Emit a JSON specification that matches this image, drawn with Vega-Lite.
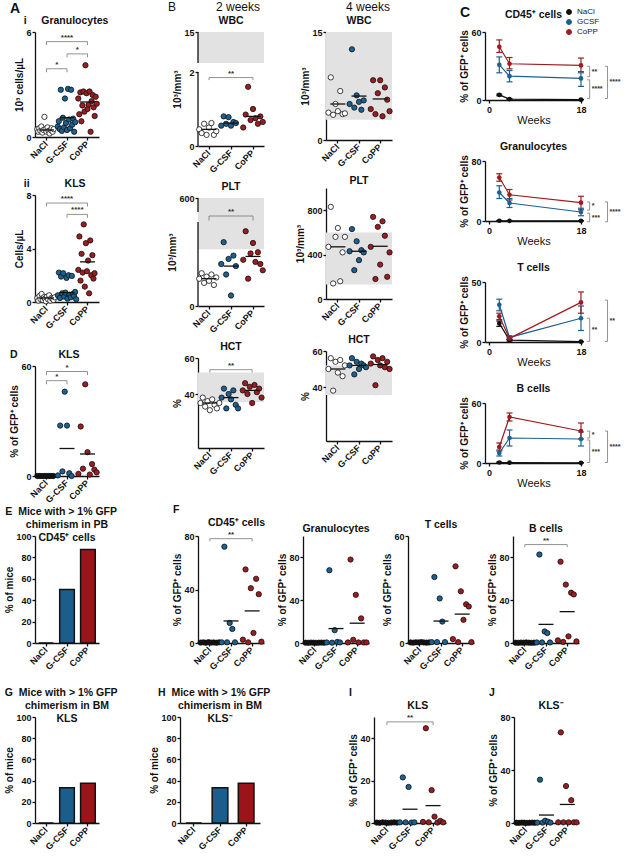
{
"$schema":"https://vega.github.io/schema/vega-lite/v6.json",
"background":"white",
"padding":{"left":4,"top":0,"right":0,"bottom":0},
"spacing":15,
"resolve":{"scale":{"xOffset":"independent","color":"independent"}},
"config":{
 "font":"Liberation Sans",
 "view":{"stroke":null},
 "axis":{"grid":false,"domainColor":"#111","domainWidth":1.3,"tickColor":"#111","tickWidth":1.3,"tickSize":3,"labelFont":"Liberation Sans","labelFontWeight":"bold","labelFontSize":9,"labelColor":"#111","labelPadding":1,"labelFlush":false,"labelOverlap":false,"titleFont":"Liberation Sans","titleFontWeight":"bold","titleFontSize":10,"titleColor":"#111","titlePadding":1},
 "axisX":{"labelAngle":-45,"labelAlign":"right","labelBaseline":"middle","labelPadding":2},
 "title":{"font":"Liberation Sans","fontSize":10.5,"fontWeight":"bold","color":"#111","offset":2,"lineHeight":13},
 "legend":{"labelFont":"Liberation Sans"}
},
"datasets":{
"Ai":[
{"g":"NaCl","v":0.45,"i":1},{"g":"NaCl","v":0.3,"i":2},{"g":"NaCl","v":0.5,"i":3},{"g":"NaCl","v":0.35,"i":4},{"g":"NaCl","v":0.6,"i":5},{"g":"NaCl","v":0.25,"i":6},{"g":"NaCl","v":0.4,"i":7},{"g":"NaCl","v":1.15,"i":8},{"g":"NaCl","v":0.45,"i":9},{"g":"NaCl","v":0.3,"i":10},{"g":"NaCl","v":0.55,"i":11},{"g":"NaCl","v":0.35,"i":12},{"g":"NaCl","v":0.2,"i":13},{"g":"NaCl","v":0.4,"i":14},{"g":"NaCl","v":0.5,"i":15},{"g":"NaCl","v":0.3,"i":16},{"g":"NaCl","v":0.45,"i":17},
{"g":"G-CSF","v":0.6,"i":1},{"g":"G-CSF","v":0.9,"i":2},{"g":"G-CSF","v":0.45,"i":3},{"g":"G-CSF","v":2.7,"i":4},{"g":"G-CSF","v":0.35,"i":5},{"g":"G-CSF","v":1.1,"i":6},{"g":"G-CSF","v":0.55,"i":7},{"g":"G-CSF","v":2.2,"i":8},{"g":"G-CSF","v":0.8,"i":9},{"g":"G-CSF","v":0.4,"i":10},{"g":"G-CSF","v":2.75,"i":11},{"g":"G-CSF","v":1.0,"i":12},{"g":"G-CSF","v":0.5,"i":13},{"g":"G-CSF","v":2.7,"i":14},{"g":"G-CSF","v":0.7,"i":15},{"g":"G-CSF","v":1.05,"i":16},{"g":"G-CSF","v":0.3,"i":17},{"g":"G-CSF","v":0.85,"i":18},
{"g":"CoPP","v":2.2,"i":1},{"g":"CoPP","v":1.3,"i":2},{"g":"CoPP","v":2.55,"i":3},{"g":"CoPP","v":0.9,"i":4},{"g":"CoPP","v":1.8,"i":5},{"g":"CoPP","v":2.6,"i":6},{"g":"CoPP","v":1.45,"i":7},{"g":"CoPP","v":4.1,"i":8},{"g":"CoPP","v":2.5,"i":9},{"g":"CoPP","v":1.6,"i":10},{"g":"CoPP","v":1.85,"i":11},{"g":"CoPP","v":2.6,"i":12},{"g":"CoPP","v":0.3,"i":13},{"g":"CoPP","v":2.05,"i":14},{"g":"CoPP","v":2.4,"i":15},{"g":"CoPP","v":1.7,"i":16},{"g":"CoPP","v":1.2,"i":17},{"g":"CoPP","v":2.3,"i":18},{"g":"CoPP","v":1.9,"i":19}
],
"Aii":[
{"g":"NaCl","v":0.3,"i":1},{"g":"NaCl","v":0.1,"i":2},{"g":"NaCl","v":0.45,"i":3},{"g":"NaCl","v":0.2,"i":4},{"g":"NaCl","v":0.6,"i":5},{"g":"NaCl","v":0.15,"i":6},{"g":"NaCl","v":0.35,"i":7},{"g":"NaCl","v":0.25,"i":8},{"g":"NaCl","v":0.05,"i":9},{"g":"NaCl","v":0.4,"i":10},{"g":"NaCl","v":0.2,"i":11},{"g":"NaCl","v":0.5,"i":12},{"g":"NaCl","v":0.1,"i":13},{"g":"NaCl","v":0.3,"i":14},{"g":"NaCl","v":0.25,"i":15},{"g":"NaCl","v":0.15,"i":16},{"g":"NaCl","v":0.35,"i":17},
{"g":"G-CSF","v":0.5,"i":1},{"g":"G-CSF","v":2.2,"i":2},{"g":"G-CSF","v":0.3,"i":3},{"g":"G-CSF","v":1.9,"i":4},{"g":"G-CSF","v":0.65,"i":5},{"g":"G-CSF","v":2.15,"i":6},{"g":"G-CSF","v":0.4,"i":7},{"g":"G-CSF","v":0.7,"i":8},{"g":"G-CSF","v":1.8,"i":9},{"g":"G-CSF","v":0.25,"i":10},{"g":"G-CSF","v":2.0,"i":11},{"g":"G-CSF","v":0.55,"i":12},{"g":"G-CSF","v":0.35,"i":13},{"g":"G-CSF","v":1.95,"i":14},{"g":"G-CSF","v":0.6,"i":15},{"g":"G-CSF","v":0.45,"i":16},{"g":"G-CSF","v":0.75,"i":17},{"g":"G-CSF","v":0.2,"i":18},
{"g":"CoPP","v":2.4,"i":1},{"g":"CoPP","v":4.9,"i":2},{"g":"CoPP","v":1.6,"i":3},{"g":"CoPP","v":3.6,"i":4},{"g":"CoPP","v":2.2,"i":5},{"g":"CoPP","v":5.8,"i":6},{"g":"CoPP","v":1.15,"i":7},{"g":"CoPP","v":4.4,"i":8},{"g":"CoPP","v":2.3,"i":9},{"g":"CoPP","v":3.1,"i":10},{"g":"CoPP","v":0.65,"i":11},{"g":"CoPP","v":4.6,"i":12},{"g":"CoPP","v":2.0,"i":13},{"g":"CoPP","v":3.5,"i":14},{"g":"CoPP","v":1.75,"i":15},{"g":"CoPP","v":2.15,"i":16}
],
"D":[
{"g":"NaCl","v":0,"i":1},{"g":"NaCl","v":0,"i":2},{"g":"NaCl","v":0,"i":3},{"g":"NaCl","v":0,"i":4},{"g":"NaCl","v":0,"i":5},{"g":"NaCl","v":0,"i":6},{"g":"NaCl","v":0,"i":7},{"g":"NaCl","v":0,"i":8},
{"g":"G-CSF","v":0.3,"i":1},{"g":"G-CSF","v":27.5,"i":2},{"g":"G-CSF","v":2.5,"i":3},{"g":"G-CSF","v":46,"i":4},{"g":"G-CSF","v":27.5,"i":5},{"g":"G-CSF","v":1.5,"i":6},{"g":"G-CSF","v":0,"i":7},
{"g":"CoPP","v":1.2,"i":1},{"g":"CoPP","v":27,"i":2},{"g":"CoPP","v":4,"i":3},{"g":"CoPP","v":50,"i":4},{"g":"CoPP","v":13,"i":5},{"g":"CoPP","v":0.8,"i":6},{"g":"CoPP","v":6.5,"i":7},{"g":"CoPP","v":3.5,"i":8},{"g":"CoPP","v":2,"i":9}
],
"B2w":[
{"g":"NaCl","v":0.45,"i":1},{"g":"NaCl","v":0.35,"i":2},{"g":"NaCl","v":0.6,"i":3},{"g":"NaCl","v":0.3,"i":4},{"g":"NaCl","v":0.5,"i":5},{"g":"NaCl","v":0.62,"i":6},{"g":"NaCl","v":0.3,"i":7},{"g":"NaCl","v":0.4,"i":8},
{"g":"G-CSF","v":0.55,"i":1},{"g":"G-CSF","v":0.8,"i":2},{"g":"G-CSF","v":0.6,"i":3},{"g":"G-CSF","v":0.78,"i":4},{"g":"G-CSF","v":0.55,"i":5},{"g":"G-CSF","v":0.65,"i":6},{"g":"G-CSF","v":0.62,"i":7},
{"g":"CoPP","v":0.5,"i":1},{"g":"CoPP","v":0.85,"i":2},{"g":"CoPP","v":1.6,"i":3},{"g":"CoPP","v":0.7,"i":4},{"g":"CoPP","v":1.0,"i":5},{"g":"CoPP","v":0.75,"i":6},{"g":"CoPP","v":0.6,"i":7},{"g":"CoPP","v":0.8,"i":8},{"g":"CoPP","v":0.65,"i":9}
],
"B2p":[
{"g":"NaCl","v":65,"i":1},{"g":"NaCl","v":78,"i":2},{"g":"NaCl","v":55,"i":3},{"g":"NaCl","v":70,"i":4},{"g":"NaCl","v":60,"i":5},{"g":"NaCl","v":75,"i":6},{"g":"NaCl","v":50,"i":7},{"g":"NaCl","v":68,"i":8},
{"g":"G-CSF","v":100,"i":1},{"g":"G-CSF","v":152,"i":2},{"g":"G-CSF","v":75,"i":3},{"g":"G-CSF","v":112,"i":4},{"g":"G-CSF","v":25,"i":5},{"g":"G-CSF","v":120,"i":6},{"g":"G-CSF","v":95,"i":7},
{"g":"CoPP","v":110,"i":1},{"g":"CoPP","v":178,"i":2},{"g":"CoPP","v":65,"i":3},{"g":"CoPP","v":125,"i":4},{"g":"CoPP","v":150,"i":5},{"g":"CoPP","v":105,"i":6},{"g":"CoPP","v":128,"i":7},{"g":"CoPP","v":100,"i":8},{"g":"CoPP","v":85,"i":9}
],
"B2h":[
{"g":"NaCl","v":35,"i":1},{"g":"NaCl","v":38,"i":2},{"g":"NaCl","v":33,"i":3},{"g":"NaCl","v":36,"i":4},{"g":"NaCl","v":31,"i":5},{"g":"NaCl","v":37,"i":6},{"g":"NaCl","v":34,"i":7},{"g":"NaCl","v":32,"i":8},{"g":"NaCl","v":35,"i":9},
{"g":"G-CSF","v":38,"i":1},{"g":"G-CSF","v":43,"i":2},{"g":"G-CSF","v":32,"i":3},{"g":"G-CSF","v":40,"i":4},{"g":"G-CSF","v":37,"i":5},{"g":"G-CSF","v":42,"i":6},{"g":"G-CSF","v":34,"i":7},{"g":"G-CSF","v":32,"i":8},
{"g":"CoPP","v":42,"i":1},{"g":"CoPP","v":46,"i":2},{"g":"CoPP","v":40,"i":3},{"g":"CoPP","v":44,"i":4},{"g":"CoPP","v":35,"i":5},{"g":"CoPP","v":45,"i":6},{"g":"CoPP","v":41,"i":7},{"g":"CoPP","v":43,"i":8},{"g":"CoPP","v":38,"i":9}
],
"B4w":[
{"g":"NaCl","v":3.8,"i":1},{"g":"NaCl","v":8.7,"i":2},{"g":"NaCl","v":3.5,"i":3},{"g":"NaCl","v":5.0,"i":4},{"g":"NaCl","v":4.0,"i":5},{"g":"NaCl","v":6.8,"i":6},{"g":"NaCl","v":3.6,"i":7},{"g":"NaCl","v":3.7,"i":8},
{"g":"G-CSF","v":5.0,"i":1},{"g":"G-CSF","v":12.6,"i":2},{"g":"G-CSF","v":4.5,"i":3},{"g":"G-CSF","v":6.2,"i":4},{"g":"G-CSF","v":5.3,"i":5},{"g":"G-CSF","v":4.2,"i":6},{"g":"G-CSF","v":5.5,"i":7},
{"g":"CoPP","v":4.3,"i":1},{"g":"CoPP","v":8.3,"i":2},{"g":"CoPP","v":3.6,"i":3},{"g":"CoPP","v":6.5,"i":4},{"g":"CoPP","v":8.3,"i":5},{"g":"CoPP","v":3.3,"i":6},{"g":"CoPP","v":7.3,"i":7},{"g":"CoPP","v":5.6,"i":8},{"g":"CoPP","v":4.0,"i":9}
],
"B4p":[
{"g":"NaCl","v":470,"i":1},{"g":"NaCl","v":830,"i":2},{"g":"NaCl","v":140,"i":3},{"g":"NaCl","v":560,"i":4},{"g":"NaCl","v":640,"i":5},{"g":"NaCl","v":160,"i":6},{"g":"NaCl","v":420,"i":7},{"g":"NaCl","v":560,"i":8},
{"g":"G-CSF","v":430,"i":1},{"g":"G-CSF","v":630,"i":2},{"g":"G-CSF","v":260,"i":3},{"g":"G-CSF","v":520,"i":4},{"g":"G-CSF","v":350,"i":5},{"g":"G-CSF","v":440,"i":6},{"g":"G-CSF","v":420,"i":7},
{"g":"CoPP","v":470,"i":1},{"g":"CoPP","v":740,"i":2},{"g":"CoPP","v":180,"i":3},{"g":"CoPP","v":650,"i":4},{"g":"CoPP","v":310,"i":5},{"g":"CoPP","v":700,"i":6},{"g":"CoPP","v":570,"i":7},{"g":"CoPP","v":200,"i":8},{"g":"CoPP","v":420,"i":9}
],
"B4h":[
{"g":"NaCl","v":50,"i":1},{"g":"NaCl","v":56,"i":2},{"g":"NaCl","v":38,"i":3},{"g":"NaCl","v":54,"i":4},{"g":"NaCl","v":48,"i":5},{"g":"NaCl","v":55,"i":6},{"g":"NaCl","v":46,"i":7},{"g":"NaCl","v":52,"i":8},
{"g":"G-CSF","v":52,"i":1},{"g":"G-CSF","v":56,"i":2},{"g":"G-CSF","v":47,"i":3},{"g":"G-CSF","v":54,"i":4},{"g":"G-CSF","v":50,"i":5},{"g":"G-CSF","v":53,"i":6},{"g":"G-CSF","v":52,"i":7},{"g":"G-CSF","v":51,"i":8},
{"g":"CoPP","v":53,"i":1},{"g":"CoPP","v":57,"i":2},{"g":"CoPP","v":41,"i":3},{"g":"CoPP","v":55,"i":4},{"g":"CoPP","v":52,"i":5},{"g":"CoPP","v":56,"i":6},{"g":"CoPP","v":51,"i":7},{"g":"CoPP","v":54,"i":8},{"g":"CoPP","v":50,"i":9}
],
"F1":[
{"g":"NaCl","v":0.3,"i":1},{"g":"NaCl","v":0.5,"i":2},{"g":"NaCl","v":0.2,"i":3},{"g":"NaCl","v":0.6,"i":4},{"g":"NaCl","v":0.3,"i":5},{"g":"NaCl","v":0.4,"i":6},{"g":"NaCl","v":0.2,"i":7},{"g":"NaCl","v":0.5,"i":8},
{"g":"G-CSF","v":0.5,"i":1},{"g":"G-CSF","v":72,"i":2},{"g":"G-CSF","v":0.5,"i":3},{"g":"G-CSF","v":15,"i":4},{"g":"G-CSF","v":10.5,"i":5},{"g":"G-CSF","v":0.5,"i":6},
{"g":"CoPP","v":2.5,"i":1},{"g":"CoPP","v":55,"i":2},{"g":"CoPP","v":0.5,"i":3},{"g":"CoPP","v":41,"i":4},{"g":"CoPP","v":7.5,"i":5},{"g":"CoPP","v":48,"i":6},{"g":"CoPP","v":36.5,"i":7},{"g":"CoPP","v":1,"i":8}
],
"F2":[
{"g":"NaCl","v":0.3,"i":1},{"g":"NaCl","v":0.2,"i":2},{"g":"NaCl","v":0.4,"i":3},{"g":"NaCl","v":0.3,"i":4},{"g":"NaCl","v":0.2,"i":5},{"g":"NaCl","v":0.3,"i":6},{"g":"NaCl","v":0.4,"i":7},{"g":"NaCl","v":0.3,"i":8},
{"g":"G-CSF","v":0.5,"i":1},{"g":"G-CSF","v":68,"i":2},{"g":"G-CSF","v":0.3,"i":3},{"g":"G-CSF","v":12,"i":4},{"g":"G-CSF","v":1,"i":5},{"g":"G-CSF","v":0.5,"i":6},
{"g":"CoPP","v":0.5,"i":1},{"g":"CoPP","v":78,"i":2},{"g":"CoPP","v":3,"i":3},{"g":"CoPP","v":45,"i":4},{"g":"CoPP","v":0.5,"i":5},{"g":"CoPP","v":23,"i":6},{"g":"CoPP","v":0.5,"i":7},{"g":"CoPP","v":0.5,"i":8}
],
"F3":[
{"g":"NaCl","v":0.3,"i":1},{"g":"NaCl","v":0.2,"i":2},{"g":"NaCl","v":0.4,"i":3},{"g":"NaCl","v":0.3,"i":4},{"g":"NaCl","v":0.5,"i":5},{"g":"NaCl","v":0.3,"i":6},{"g":"NaCl","v":0.2,"i":7},{"g":"NaCl","v":0.3,"i":8},
{"g":"G-CSF","v":0.5,"i":1},{"g":"G-CSF","v":37,"i":2},{"g":"G-CSF","v":0.5,"i":3},{"g":"G-CSF","v":25,"i":4},{"g":"G-CSF","v":12,"i":5},{"g":"G-CSF","v":0.5,"i":6},
{"g":"CoPP","v":2.2,"i":1},{"g":"CoPP","v":43,"i":2},{"g":"CoPP","v":0.5,"i":3},{"g":"CoPP","v":29,"i":4},{"g":"CoPP","v":13,"i":5},{"g":"CoPP","v":21.7,"i":6},{"g":"CoPP","v":20.5,"i":7},{"g":"CoPP","v":0.5,"i":8}
],
"F4":[
{"g":"NaCl","v":0.3,"i":1},{"g":"NaCl","v":0.2,"i":2},{"g":"NaCl","v":0.4,"i":3},{"g":"NaCl","v":0.3,"i":4},{"g":"NaCl","v":0.5,"i":5},{"g":"NaCl","v":0.3,"i":6},{"g":"NaCl","v":0.2,"i":7},{"g":"NaCl","v":0.3,"i":8},
{"g":"G-CSF","v":0.5,"i":1},{"g":"G-CSF","v":82.7,"i":2},{"g":"G-CSF","v":0.5,"i":3},{"g":"G-CSF","v":10.8,"i":4},{"g":"G-CSF","v":9.3,"i":5},{"g":"G-CSF","v":0.5,"i":6},
{"g":"CoPP","v":2.5,"i":1},{"g":"CoPP","v":76,"i":2},{"g":"CoPP","v":1,"i":3},{"g":"CoPP","v":54.6,"i":4},{"g":"CoPP","v":6.2,"i":5},{"g":"CoPP","v":47,"i":6},{"g":"CoPP","v":45.4,"i":7},{"g":"CoPP","v":1.5,"i":8}
],
"I":[
{"g":"NaCl","v":0.2,"i":1},{"g":"NaCl","v":0.1,"i":2},{"g":"NaCl","v":0.3,"i":3},{"g":"NaCl","v":0.2,"i":4},{"g":"NaCl","v":0.1,"i":5},{"g":"NaCl","v":0.2,"i":6},{"g":"NaCl","v":0.3,"i":7},{"g":"NaCl","v":0.2,"i":8},
{"g":"G-CSF","v":0.3,"i":1},{"g":"G-CSF","v":21.5,"i":2},{"g":"G-CSF","v":0.3,"i":3},{"g":"G-CSF","v":17,"i":4},{"g":"G-CSF","v":0.2,"i":5},{"g":"G-CSF","v":0.3,"i":6},
{"g":"CoPP","v":0.5,"i":1},{"g":"CoPP","v":44.7,"i":2},{"g":"CoPP","v":0.3,"i":3},{"g":"CoPP","v":15.5,"i":4},{"g":"CoPP","v":3,"i":5},{"g":"CoPP","v":0.2,"i":6},{"g":"CoPP","v":1,"i":7},{"g":"CoPP","v":0.3,"i":8}
],
"J":[
{"g":"NaCl","v":0.2,"i":1},{"g":"NaCl","v":0.1,"i":2},{"g":"NaCl","v":0.3,"i":3},{"g":"NaCl","v":0.2,"i":4},{"g":"NaCl","v":0.1,"i":5},{"g":"NaCl","v":0.2,"i":6},{"g":"NaCl","v":0.3,"i":7},{"g":"NaCl","v":0.2,"i":8},
{"g":"G-CSF","v":0.3,"i":1},{"g":"G-CSF","v":32.7,"i":2},{"g":"G-CSF","v":0.3,"i":3},{"g":"G-CSF","v":1.7,"i":4},{"g":"G-CSF","v":1,"i":5},{"g":"G-CSF","v":0.3,"i":6},
{"g":"CoPP","v":0.5,"i":1},{"g":"CoPP","v":68.4,"i":2},{"g":"CoPP","v":0.5,"i":3},{"g":"CoPP","v":27.9,"i":4},{"g":"CoPP","v":0.5,"i":5},{"g":"CoPP","v":17.2,"i":6},{"g":"CoPP","v":0.5,"i":7},{"g":"CoPP","v":0.5,"i":8}
],
"means":[
{"p":"Ai","g":"NaCl","v":0.4},{"p":"Ai","g":"G-CSF","v":1.1},{"p":"Ai","g":"CoPP","v":2.0},
{"p":"Aii","g":"NaCl","v":0.3},{"p":"Aii","g":"G-CSF","v":0.7},{"p":"Aii","g":"CoPP","v":3.0},
{"p":"D","g":"NaCl","v":0},{"p":"D","g":"G-CSF","v":15},{"p":"D","g":"CoPP","v":12},
{"p":"B2w","g":"NaCl","v":0.45},{"p":"B2w","g":"G-CSF","v":0.62},{"p":"B2w","g":"CoPP","v":0.8},
{"p":"B2p","g":"NaCl","v":65},{"p":"B2p","g":"G-CSF","v":95},{"p":"B2p","g":"CoPP","v":118},
{"p":"B2h","g":"NaCl","v":35},{"p":"B2h","g":"G-CSF","v":38},{"p":"B2h","g":"CoPP","v":42},
{"p":"B4w","g":"NaCl","v":5.0},{"p":"B4w","g":"G-CSF","v":6.1},{"p":"B4w","g":"CoPP","v":5.7},
{"p":"B4p","g":"NaCl","v":470},{"p":"B4p","g":"G-CSF","v":430},{"p":"B4p","g":"CoPP","v":475},
{"p":"B4h","g":"NaCl","v":50},{"p":"B4h","g":"G-CSF","v":52},{"p":"B4h","g":"CoPP","v":52.5},
{"p":"F1","g":"NaCl","v":0.4},{"p":"F1","g":"G-CSF","v":16.5},{"p":"F1","g":"CoPP","v":24},
{"p":"F2","g":"NaCl","v":0.3},{"p":"F2","g":"G-CSF","v":13.5},{"p":"F2","g":"CoPP","v":18.5},
{"p":"F3","g":"NaCl","v":0.3},{"p":"F3","g":"G-CSF","v":12.3},{"p":"F3","g":"CoPP","v":16.2},
{"p":"F4","g":"NaCl","v":0.3},{"p":"F4","g":"G-CSF","v":17.4},{"p":"F4","g":"CoPP","v":29.3},
{"p":"I","g":"NaCl","v":0.2},{"p":"I","g":"G-CSF","v":6.5},{"p":"I","g":"CoPP","v":8.2},
{"p":"J","g":"NaCl","v":0.2},{"p":"J","g":"G-CSF","v":6},{"p":"J","g":"CoPP","v":14}
],
"brk":[
{"p":"Ai","g1":"NaCl","g2":"G-CSF","v":3.9,"v2":3.7,"t":"*"},
{"p":"Ai","g1":"NaCl","g2":"CoPP","v":5.45,"v2":5.25,"t":"****"},
{"p":"Ai","g1":"G-CSF","g2":"CoPP","v":4.75,"v2":4.55,"t":"*"},
{"p":"Aii","g1":"NaCl","g2":"CoPP","v":7.4,"v2":7.15,"t":"****"},
{"p":"Aii","g1":"G-CSF","g2":"CoPP","v":6.55,"v2":6.3,"t":"****"},
{"p":"D","g1":"NaCl","g2":"CoPP","v":57,"v2":55,"t":"*"},
{"p":"D","g1":"NaCl","g2":"G-CSF","v":52,"v2":50,"t":"*"},
{"p":"B2w","g1":"NaCl","g2":"CoPP","v":1.85,"v2":1.78,"t":"**"},
{"p":"B2p","g1":"NaCl","g2":"CoPP","v":260,"v2":215,"t":"**"},
{"p":"B2h","g1":"NaCl","g2":"CoPP","v":53.5,"v2":52,"t":"**"},
{"p":"F1","g1":"NaCl","g2":"CoPP","v":78,"v2":76,"t":"**"},
{"p":"F4","g1":"NaCl","g2":"CoPP","v":92,"v2":89.5,"t":"**"},
{"p":"I","g1":"NaCl","g2":"CoPP","v":47.7,"v2":46.2,"t":"**"}
],
"bands":[
{"p":"B2w","lo":3,"hi":15},{"p":"B2p","lo":135,"hi":600},{"p":"B2h","lo":35.5,"hi":52},
{"p":"B4w","lo":2.8,"hi":15},{"p":"B4p","lo":130,"hi":600},{"p":"B4h","lo":35.5,"hi":52}
],
"axseg":[
{"p":"B2w","a":0,"b":2},{"p":"B2w","a":3,"b":15},
{"p":"B2p","a":0,"b":200},{"p":"B2p","a":300,"b":600}
],
"bars":[
{"p":"E","g":"NaCl","v":0},{"p":"E","g":"G-CSF","v":50},{"p":"E","g":"CoPP","v":87.5},
{"p":"G","g":"NaCl","v":0},{"p":"G","g":"G-CSF","v":33.3},{"p":"G","g":"CoPP","v":37.5},
{"p":"H","g":"NaCl","v":0},{"p":"H","g":"G-CSF","v":33.3},{"p":"H","g":"CoPP","v":37.5}
],
"cser":[
{"p":"cd","g":"NaCl","w":2,"m":4.5,"lo":3.8,"hi":5.2},{"p":"cd","g":"NaCl","w":4,"m":0.8,"lo":0.4,"hi":1.2},{"p":"cd","g":"NaCl","w":18,"m":0.3,"lo":0.1,"hi":0.5},
{"p":"cd","g":"GCSF","w":2,"m":31,"lo":24,"hi":38},{"p":"cd","g":"GCSF","w":4,"m":21,"lo":16,"hi":26},{"p":"cd","g":"GCSF","w":18,"m":19,"lo":12,"hi":24},
{"p":"cd","g":"CoPP","w":2,"m":47,"lo":42,"hi":53},{"p":"cd","g":"CoPP","w":4,"m":32,"lo":27.5,"hi":37.5},{"p":"cd","g":"CoPP","w":18,"m":30.5,"lo":25,"hi":37},
{"p":"gr","g":"NaCl","w":2,"m":0.3,"lo":0,"hi":0.6},{"p":"gr","g":"NaCl","w":4,"m":0.2,"lo":0,"hi":0.4},{"p":"gr","g":"NaCl","w":18,"m":0.2,"lo":0,"hi":0.4},
{"p":"gr","g":"GCSF","w":2,"m":38,"lo":30,"hi":47},{"p":"gr","g":"GCSF","w":4,"m":24,"lo":18,"hi":30},{"p":"gr","g":"GCSF","w":18,"m":12,"lo":7,"hi":17},
{"p":"gr","g":"CoPP","w":2,"m":58,"lo":53,"hi":63},{"p":"gr","g":"CoPP","w":4,"m":35,"lo":28,"hi":42},{"p":"gr","g":"CoPP","w":18,"m":24.5,"lo":15,"hi":33},
{"p":"t","g":"NaCl","w":2,"m":15.5,"lo":13,"hi":17.5},{"p":"t","g":"NaCl","w":4,"m":1.5,"lo":0.8,"hi":2.2},{"p":"t","g":"NaCl","w":18,"m":0.3,"lo":0,"hi":0.5},
{"p":"t","g":"GCSF","w":2,"m":31,"lo":26,"hi":35.7},{"p":"t","g":"GCSF","w":4,"m":3.8,"lo":2.5,"hi":5.2},{"p":"t","g":"GCSF","w":18,"m":19.8,"lo":9.6,"hi":30},
{"p":"t","g":"CoPP","w":2,"m":21.4,"lo":18.7,"hi":24},{"p":"t","g":"CoPP","w":4,"m":3,"lo":2,"hi":4},{"p":"t","g":"CoPP","w":18,"m":33,"lo":24,"hi":41.7},
{"p":"b","g":"NaCl","w":2,"m":0.5,"lo":0,"hi":1},{"p":"b","g":"NaCl","w":4,"m":0.3,"lo":0,"hi":0.6},{"p":"b","g":"NaCl","w":18,"m":0.2,"lo":0,"hi":0.4},
{"p":"b","g":"GCSF","w":2,"m":10,"lo":7,"hi":13},{"p":"b","g":"GCSF","w":4,"m":25,"lo":17,"hi":33},{"p":"b","g":"GCSF","w":18,"m":24,"lo":17,"hi":31},
{"p":"b","g":"CoPP","w":2,"m":16,"lo":12,"hi":20},{"p":"b","g":"CoPP","w":4,"m":46,"lo":42,"hi":50},{"p":"b","g":"CoPP","w":18,"m":32,"lo":24,"hi":40}
],
"cbrk":[
{"p":"cd","xa":19.2,"xb":19.7,"ya":29.7,"yb":20.5,"xt":20.1,"yt":25,"t":"**"},
{"p":"cd","xa":19.2,"xb":19.7,"ya":17.8,"yb":1.3,"xt":20.1,"yt":9.5,"t":"****"},
{"p":"cd","xa":22.7,"xb":23.2,"ya":29.7,"yb":1.3,"xt":23.6,"yt":15.5,"t":"****"},
{"p":"gr","xa":19.2,"xb":19.7,"ya":25.5,"yb":14.5,"xt":20.1,"yt":20,"t":"*"},
{"p":"gr","xa":19.2,"xb":19.7,"ya":10.5,"yb":-1,"xt":20.1,"yt":4.5,"t":"***"},
{"p":"gr","xa":22.7,"xb":23.2,"ya":25.5,"yb":-1,"xt":23.6,"yt":12,"t":"****"},
{"p":"t","xa":19.2,"xb":19.7,"ya":19.8,"yb":0.5,"xt":20.1,"yt":10,"t":"**"},
{"p":"t","xa":22.7,"xb":23.2,"ya":34.9,"yb":0.5,"xt":23.6,"yt":17.7,"t":"**"},
{"p":"b","xa":19.2,"xb":19.7,"ya":32,"yb":25,"xt":20.1,"yt":28.5,"t":"*"},
{"p":"b","xa":19.2,"xb":19.7,"ya":23,"yb":0.5,"xt":20.1,"yt":11.5,"t":"***"},
{"p":"b","xa":22.7,"xb":23.2,"ya":32,"yb":0.5,"xt":23.6,"yt":16,"t":"****"}
]
},
"vconcat":[
{"spacing":0,"resolve":{"scale":{"xOffset":"independent","color":"independent"}},"vconcat":[
{"hconcat":[
 {"hconcat":[
  {"title":{"text":"A","anchor":"start","frame":"bounds","fontSize":14,"offset":0},"spacing":18,"resolve":{"scale":{"xOffset":"independent","color":"independent"}},
   "vconcat":[
   {"spacing":12,"resolve":{"scale":{"xOffset":"independent","color":"independent"}},"vconcat":[
   {"title":{"text":"\u200b\u00a0\u00a0\u00a0i\u00a0\u00a0\u00a0\u00a0\u00a0Granulocytes","anchor":"start","frame":"bounds"},"width":64,"height":105,"layer":[
    {"data":{"name":"Ai"},"mark":{"type":"circle","size":28,"stroke":"#111","strokeWidth":0.8,"opacity":1},"encoding":{"x":{"field":"g","type":"nominal","title":null,"scale":{"domain":["NaCl","G-CSF","CoPP"],"paddingInner":0,"paddingOuter":0.06}},"xOffset":{"field":"i","type":"nominal","scale":{"paddingOuter":2}},"y":{"field":"v","type":"quantitative","title":"10³ cells/µL","scale":{"domain":[0,6],"nice":false,"zero":false},"axis":{"values":[0,2,4,6]}},"fill":{"condition":[{"test":"datum.g=='NaCl'","value":"white"},{"test":"datum.g=='CoPP'","value":"#9e1b20"}],"value":"#1b6191"}}},
    {"data":{"name":"means"},"transform":[{"filter":"datum.p=='Ai'"}],"mark":{"type":"tick","color":"#111","thickness":1.3,"size":15,"opacity":1},"encoding":{"x":{"field":"g","type":"nominal"},"y":{"field":"v","type":"quantitative"}}},
    {"data":{"name":"brk"},"transform":[{"filter":"datum.p=='Ai'"}],"layer":[
     {"mark":{"type":"rule","color":"#777","strokeWidth":0.8},"encoding":{"x":{"field":"g1","type":"nominal"},"x2":{"field":"g2"},"y":{"field":"v","type":"quantitative"}}},
     {"mark":{"type":"rule","color":"#777","strokeWidth":0.8},"encoding":{"x":{"field":"g1","type":"nominal"},"y":{"field":"v","type":"quantitative"},"y2":{"field":"v2"}}},
     {"mark":{"type":"rule","color":"#777","strokeWidth":0.8},"encoding":{"x":{"field":"g2","type":"nominal"},"y":{"field":"v","type":"quantitative"},"y2":{"field":"v2"}}},
     {"transform":[{"filter":"datum.g1=='NaCl' && datum.g2=='CoPP'"}],"mark":{"type":"text","fontSize":8,"fontWeight":"bold","color":"#333","baseline":"bottom"},"encoding":{"x":{"datum":"G-CSF","type":"nominal"},"y":{"field":"v","type":"quantitative"},"text":{"field":"t"}}},
     {"transform":[{"filter":"!(datum.g1=='NaCl' && datum.g2=='CoPP')"}],"mark":{"type":"text","fontSize":8,"fontWeight":"bold","color":"#333","baseline":"bottom"},"encoding":{"x":{"field":"g2","type":"nominal","bandPosition":0},"y":{"field":"v","type":"quantitative"},"text":{"field":"t"}}}
    ]}
   ]},
   {"title":{"text":"\u200b\u00a0\u00a0\u00a0ii\u00a0\u00a0\u00a0\u00a0\u00a0\u00a0\u00a0\u00a0\u00a0\u00a0\u00a0\u00a0KLS","anchor":"start","frame":"bounds"},"width":64,"height":107,"layer":[
    {"data":{"name":"Aii"},"mark":{"type":"circle","size":28,"stroke":"#111","strokeWidth":0.8,"opacity":1},"encoding":{"x":{"field":"g","type":"nominal","title":null,"scale":{"domain":["NaCl","G-CSF","CoPP"],"paddingInner":0,"paddingOuter":0.06}},"xOffset":{"field":"i","type":"nominal","scale":{"paddingOuter":2}},"y":{"field":"v","type":"quantitative","title":"Cells/µL","scale":{"domain":[0,8],"nice":false,"zero":false},"axis":{"values":[0,2,4,6,8]}},"fill":{"condition":[{"test":"datum.g=='NaCl'","value":"white"},{"test":"datum.g=='CoPP'","value":"#9e1b20"}],"value":"#1b6191"}}},
    {"data":{"name":"means"},"transform":[{"filter":"datum.p=='Aii'"}],"mark":{"type":"tick","color":"#111","thickness":1.3,"size":15,"opacity":1},"encoding":{"x":{"field":"g","type":"nominal"},"y":{"field":"v","type":"quantitative"}}},
    {"data":{"name":"brk"},"transform":[{"filter":"datum.p=='Aii'"}],"layer":[
     {"mark":{"type":"rule","color":"#777","strokeWidth":0.8},"encoding":{"x":{"field":"g1","type":"nominal"},"x2":{"field":"g2"},"y":{"field":"v","type":"quantitative"}}},
     {"mark":{"type":"rule","color":"#777","strokeWidth":0.8},"encoding":{"x":{"field":"g1","type":"nominal"},"y":{"field":"v","type":"quantitative"},"y2":{"field":"v2"}}},
     {"mark":{"type":"rule","color":"#777","strokeWidth":0.8},"encoding":{"x":{"field":"g2","type":"nominal"},"y":{"field":"v","type":"quantitative"},"y2":{"field":"v2"}}},
     {"transform":[{"filter":"datum.g1=='NaCl' && datum.g2=='CoPP'"}],"mark":{"type":"text","fontSize":8,"fontWeight":"bold","color":"#333","baseline":"bottom"},"encoding":{"x":{"datum":"G-CSF","type":"nominal"},"y":{"field":"v","type":"quantitative"},"text":{"field":"t"}}},
     {"transform":[{"filter":"!(datum.g1=='NaCl' && datum.g2=='CoPP')"}],"mark":{"type":"text","fontSize":8,"fontWeight":"bold","color":"#333","baseline":"bottom"},"encoding":{"x":{"field":"g2","type":"nominal","bandPosition":0},"y":{"field":"v","type":"quantitative"},"text":{"field":"t"}}}
    ]}
   ]}
   ]},
   {"title":{"text":"D\u00a0\u00a0\u00a0\u00a0\u00a0\u00a0\u00a0\u00a0\u00a0\u00a0\u00a0\u00a0\u00a0\u00a0KLS","anchor":"start","frame":"bounds"},"width":64,"height":110,"layer":[
    {"data":{"name":"D"},"mark":{"type":"circle","size":28,"stroke":"#111","strokeWidth":0.8,"opacity":1},"encoding":{"x":{"field":"g","type":"nominal","title":null,"scale":{"domain":["NaCl","G-CSF","CoPP"],"paddingInner":0,"paddingOuter":0.06}},"xOffset":{"field":"i","type":"nominal","scale":{"paddingOuter":0.5}},"y":{"field":"v","type":"quantitative","title":"% of GFP⁺ cells","scale":{"domain":[0,60],"nice":false,"zero":false},"axis":{"values":[0,20,40,60]}},"fill":{"condition":[{"test":"datum.g=='NaCl'","value":"#111"},{"test":"datum.g=='CoPP'","value":"#9e1b20"}],"value":"#1b6191"}}},
    {"data":{"name":"means"},"transform":[{"filter":"datum.p=='D'"}],"mark":{"type":"tick","color":"#111","thickness":1.3,"size":15,"opacity":1},"encoding":{"x":{"field":"g","type":"nominal"},"y":{"field":"v","type":"quantitative"}}},
    {"data":{"name":"brk"},"transform":[{"filter":"datum.p=='D'"}],"layer":[
     {"mark":{"type":"rule","color":"#777","strokeWidth":0.8},"encoding":{"x":{"field":"g1","type":"nominal"},"x2":{"field":"g2"},"y":{"field":"v","type":"quantitative"}}},
     {"mark":{"type":"rule","color":"#777","strokeWidth":0.8},"encoding":{"x":{"field":"g1","type":"nominal"},"y":{"field":"v","type":"quantitative"},"y2":{"field":"v2"}}},
     {"mark":{"type":"rule","color":"#777","strokeWidth":0.8},"encoding":{"x":{"field":"g2","type":"nominal"},"y":{"field":"v","type":"quantitative"},"y2":{"field":"v2"}}},
     {"transform":[{"filter":"datum.g1=='NaCl' && datum.g2=='CoPP'"}],"mark":{"type":"text","fontSize":8,"fontWeight":"bold","color":"#333","baseline":"bottom"},"encoding":{"x":{"datum":"G-CSF","type":"nominal"},"y":{"field":"v","type":"quantitative"},"text":{"field":"t"}}},
     {"transform":[{"filter":"!(datum.g1=='NaCl' && datum.g2=='CoPP')"}],"mark":{"type":"text","fontSize":8,"fontWeight":"bold","color":"#333","baseline":"bottom"},"encoding":{"x":{"field":"g2","type":"nominal","bandPosition":0},"y":{"field":"v","type":"quantitative"},"text":{"field":"t"}}}
    ]}
   ]}
  ]},
  {"hconcat":[
   {"title":{"text":"B\u00a0\u00a0\u00a0\u00a0\u00a0\u00a0\u00a0\u00a0\u00a0\u00a0\u00a0\u00a02 weeks","anchor":"start","frame":"bounds","fontWeight":"normal","fontSize":12},"spacing":6,"resolve":{"scale":{"xOffset":"independent","color":"independent"}},
    "vconcat":[
    {"title":"WBC","width":66,"height":114,"layer":[
     {"data":{"name":"bands"},"transform":[{"filter":"datum.p=='B2w'"}],"mark":{"type":"rect","color":"#e2e2e2"},"encoding":{"y":{"field":"lo","type":"quantitative"},"y2":{"field":"hi"}}},
     {"data":{"name":"axseg"},"transform":[{"filter":"datum.p=='B2w'"}],"mark":{"type":"rule","color":"#111","strokeWidth":1.3},"encoding":{"x":{"datum":"NaCl","type":"nominal","bandPosition":0},"y":{"field":"a","type":"quantitative"},"y2":{"field":"b"}}},
     {"data":{"name":"B2w"},"mark":{"type":"circle","size":28,"stroke":"#111","strokeWidth":0.8,"opacity":1},"encoding":{"x":{"field":"g","type":"nominal","title":null,"scale":{"domain":["NaCl","G-CSF","CoPP"],"paddingInner":0,"paddingOuter":0}},"xOffset":{"field":"i","type":"nominal","scale":{"paddingOuter":0.5}},"y":{"field":"v","type":"quantitative","title":"10³/mm³","scale":{"domain":[0,2,3,15],"range":[114,40,31,0],"nice":false,"zero":false},"axis":{"values":[0,1,2,3,15],"domain":false}},"fill":{"condition":[{"test":"datum.g=='NaCl'","value":"white"},{"test":"datum.g=='CoPP'","value":"#9e1b20"}],"value":"#1b6191"}}},
     {"data":{"name":"means"},"transform":[{"filter":"datum.p=='B2w'"}],"mark":{"type":"tick","color":"#111","thickness":1.3,"size":15,"opacity":1},"encoding":{"x":{"field":"g","type":"nominal"},"y":{"field":"v","type":"quantitative"}}},
     {"data":{"name":"brk"},"transform":[{"filter":"datum.p=='B2w'"}],"layer":[
      {"mark":{"type":"rule","color":"#777","strokeWidth":0.8},"encoding":{"x":{"field":"g1","type":"nominal"},"x2":{"field":"g2"},"y":{"field":"v","type":"quantitative"}}},
      {"mark":{"type":"rule","color":"#777","strokeWidth":0.8},"encoding":{"x":{"field":"g1","type":"nominal"},"y":{"field":"v","type":"quantitative"},"y2":{"field":"v2"}}},
      {"mark":{"type":"rule","color":"#777","strokeWidth":0.8},"encoding":{"x":{"field":"g2","type":"nominal"},"y":{"field":"v","type":"quantitative"},"y2":{"field":"v2"}}},
      {"mark":{"type":"text","fontSize":8,"fontWeight":"bold","color":"#333","baseline":"bottom"},"encoding":{"x":{"datum":"G-CSF","type":"nominal"},"y":{"field":"v","type":"quantitative"},"text":{"field":"t"}}}
     ]}
    ]},
    {"title":"PLT","width":66,"height":108,"layer":[
     {"data":{"name":"bands"},"transform":[{"filter":"datum.p=='B2p'"}],"mark":{"type":"rect","color":"#e2e2e2"},"encoding":{"y":{"field":"lo","type":"quantitative"},"y2":{"field":"hi"}}},
     {"data":{"name":"axseg"},"transform":[{"filter":"datum.p=='B2p'"}],"mark":{"type":"rule","color":"#111","strokeWidth":1.3},"encoding":{"x":{"datum":"NaCl","type":"nominal","bandPosition":0},"y":{"field":"a","type":"quantitative"},"y2":{"field":"b"}}},
     {"data":{"name":"B2p"},"mark":{"type":"circle","size":28,"stroke":"#111","strokeWidth":0.8,"opacity":1},"encoding":{"x":{"field":"g","type":"nominal","title":null,"scale":{"domain":["NaCl","G-CSF","CoPP"],"paddingInner":0,"paddingOuter":0}},"xOffset":{"field":"i","type":"nominal","scale":{"paddingOuter":0.5}},"y":{"field":"v","type":"quantitative","title":"10³/mm³","scale":{"domain":[0,200,300,600],"range":[108,24,14,0],"nice":false,"zero":false},"axis":{"values":[0,50,100,150,200,300,600],"domain":false}},"fill":{"condition":[{"test":"datum.g=='NaCl'","value":"white"},{"test":"datum.g=='CoPP'","value":"#9e1b20"}],"value":"#1b6191"}}},
     {"data":{"name":"means"},"transform":[{"filter":"datum.p=='B2p'"}],"mark":{"type":"tick","color":"#111","thickness":1.3,"size":15,"opacity":1},"encoding":{"x":{"field":"g","type":"nominal"},"y":{"field":"v","type":"quantitative"}}},
     {"data":{"name":"brk"},"transform":[{"filter":"datum.p=='B2p'"}],"layer":[
      {"mark":{"type":"rule","color":"#777","strokeWidth":0.8},"encoding":{"x":{"field":"g1","type":"nominal"},"x2":{"field":"g2"},"y":{"field":"v","type":"quantitative"}}},
      {"mark":{"type":"rule","color":"#777","strokeWidth":0.8},"encoding":{"x":{"field":"g1","type":"nominal"},"y":{"field":"v","type":"quantitative"},"y2":{"field":"v2"}}},
      {"mark":{"type":"rule","color":"#777","strokeWidth":0.8},"encoding":{"x":{"field":"g2","type":"nominal"},"y":{"field":"v","type":"quantitative"},"y2":{"field":"v2"}}},
      {"mark":{"type":"text","fontSize":8,"fontWeight":"bold","color":"#333","baseline":"bottom"},"encoding":{"x":{"datum":"G-CSF","type":"nominal"},"y":{"field":"v","type":"quantitative"},"text":{"field":"t"}}}
     ]}
    ]},
    {"title":"HCT","width":66,"height":90,"layer":[
     {"data":{"name":"bands"},"transform":[{"filter":"datum.p=='B2h'"}],"mark":{"type":"rect","color":"#e2e2e2"},"encoding":{"y":{"field":"lo","type":"quantitative"},"y2":{"field":"hi"}}},
     {"data":{"name":"B2h"},"mark":{"type":"circle","size":28,"stroke":"#111","strokeWidth":0.8,"opacity":1},"encoding":{"x":{"field":"g","type":"nominal","title":null,"scale":{"domain":["NaCl","G-CSF","CoPP"],"paddingInner":0,"paddingOuter":0.06}},"xOffset":{"field":"i","type":"nominal","scale":{"paddingOuter":0.5}},"y":{"field":"v","type":"quantitative","title":"%","scale":{"domain":[10,60],"nice":false,"zero":false},"axis":{"values":[40,60]}},"fill":{"condition":[{"test":"datum.g=='NaCl'","value":"white"},{"test":"datum.g=='CoPP'","value":"#9e1b20"}],"value":"#1b6191"}}},
     {"data":{"name":"means"},"transform":[{"filter":"datum.p=='B2h'"}],"mark":{"type":"tick","color":"#111","thickness":1.3,"size":15,"opacity":1},"encoding":{"x":{"field":"g","type":"nominal"},"y":{"field":"v","type":"quantitative"}}},
     {"data":{"name":"brk"},"transform":[{"filter":"datum.p=='B2h'"}],"layer":[
      {"mark":{"type":"rule","color":"#777","strokeWidth":0.8},"encoding":{"x":{"field":"g1","type":"nominal"},"x2":{"field":"g2"},"y":{"field":"v","type":"quantitative"}}},
      {"mark":{"type":"rule","color":"#777","strokeWidth":0.8},"encoding":{"x":{"field":"g1","type":"nominal"},"y":{"field":"v","type":"quantitative"},"y2":{"field":"v2"}}},
      {"mark":{"type":"rule","color":"#777","strokeWidth":0.8},"encoding":{"x":{"field":"g2","type":"nominal"},"y":{"field":"v","type":"quantitative"},"y2":{"field":"v2"}}},
      {"mark":{"type":"text","fontSize":8,"fontWeight":"bold","color":"#333","baseline":"bottom"},"encoding":{"x":{"datum":"G-CSF","type":"nominal"},"y":{"field":"v","type":"quantitative"},"text":{"field":"t"}}}
     ]}
    ]}
   ]},
   {"title":{"text":"\u200b\u00a0\u00a0\u00a0\u00a0\u00a0\u00a0\u00a0\u00a0\u00a0\u00a0\u00a0\u00a0\u00a0\u00a0\u00a04 weeks","anchor":"start","frame":"bounds","fontWeight":"normal","fontSize":12},"spacing":6,"resolve":{"scale":{"xOffset":"independent","color":"independent"}},
    "vconcat":[
    {"title":"WBC","width":66,"height":108,"layer":[
     {"data":{"name":"bands"},"transform":[{"filter":"datum.p=='B4w'"}],"mark":{"type":"rect","color":"#e2e2e2"},"encoding":{"y":{"field":"lo","type":"quantitative"},"y2":{"field":"hi"}}},
     {"data":{"name":"B4w"},"mark":{"type":"circle","size":28,"stroke":"#111","strokeWidth":0.8,"opacity":1},"encoding":{"x":{"field":"g","type":"nominal","title":null,"scale":{"domain":["NaCl","G-CSF","CoPP"],"paddingInner":0,"paddingOuter":0.06}},"xOffset":{"field":"i","type":"nominal","scale":{"paddingOuter":0.5}},"y":{"field":"v","type":"quantitative","title":"10³/mm³","scale":{"domain":[0,15],"nice":false,"zero":false},"axis":{"values":[0,5,10,15]}},"fill":{"condition":[{"test":"datum.g=='NaCl'","value":"white"},{"test":"datum.g=='CoPP'","value":"#9e1b20"}],"value":"#1b6191"}}},
     {"data":{"name":"means"},"transform":[{"filter":"datum.p=='B4w'"}],"mark":{"type":"tick","color":"#111","thickness":1.3,"size":15,"opacity":1},"encoding":{"x":{"field":"g","type":"nominal"},"y":{"field":"v","type":"quantitative"}}}
    ]},
    {"title":"PLT","width":66,"height":111,"layer":[
     {"data":{"name":"bands"},"transform":[{"filter":"datum.p=='B4p'"}],"mark":{"type":"rect","color":"#e2e2e2"},"encoding":{"y":{"field":"lo","type":"quantitative"},"y2":{"field":"hi"}}},
     {"data":{"name":"B4p"},"mark":{"type":"circle","size":28,"stroke":"#111","strokeWidth":0.8,"opacity":1},"encoding":{"x":{"field":"g","type":"nominal","title":null,"scale":{"domain":["NaCl","G-CSF","CoPP"],"paddingInner":0,"paddingOuter":0.06}},"xOffset":{"field":"i","type":"nominal","scale":{"paddingOuter":0.5}},"y":{"field":"v","type":"quantitative","title":"10³/mm³","scale":{"domain":[0,1000],"nice":false,"zero":false},"axis":{"values":[0,200,400,600,800,1000]}},"fill":{"condition":[{"test":"datum.g=='NaCl'","value":"white"},{"test":"datum.g=='CoPP'","value":"#9e1b20"}],"value":"#1b6191"}}},
     {"data":{"name":"means"},"transform":[{"filter":"datum.p=='B4p'"}],"mark":{"type":"tick","color":"#111","thickness":1.3,"size":15,"opacity":1},"encoding":{"x":{"field":"g","type":"nominal"},"y":{"field":"v","type":"quantitative"}}}
    ]},
    {"title":"HCT","width":66,"height":90,"layer":[
     {"data":{"name":"bands"},"transform":[{"filter":"datum.p=='B4h'"}],"mark":{"type":"rect","color":"#e2e2e2"},"encoding":{"y":{"field":"lo","type":"quantitative"},"y2":{"field":"hi"}}},
     {"data":{"name":"B4h"},"mark":{"type":"circle","size":28,"stroke":"#111","strokeWidth":0.8,"opacity":1},"encoding":{"x":{"field":"g","type":"nominal","title":null,"scale":{"domain":["NaCl","G-CSF","CoPP"],"paddingInner":0,"paddingOuter":0.06}},"xOffset":{"field":"i","type":"nominal","scale":{"paddingOuter":0.5}},"y":{"field":"v","type":"quantitative","title":"%","scale":{"domain":[10,60],"nice":false,"zero":false},"axis":{"values":[40,60]}},"fill":{"condition":[{"test":"datum.g=='NaCl'","value":"white"},{"test":"datum.g=='CoPP'","value":"#9e1b20"}],"value":"#1b6191"}}},
     {"data":{"name":"means"},"transform":[{"filter":"datum.p=='B4h'"}],"mark":{"type":"tick","color":"#111","thickness":1.3,"size":15,"opacity":1},"encoding":{"x":{"field":"g","type":"nominal"},"y":{"field":"v","type":"quantitative"}}}
    ]}
   ]}
  ],"spacing":27,"resolve":{"scale":{"xOffset":"independent","color":"independent"}}}
 ],"spacing":58,"resolve":{"scale":{"xOffset":"independent","color":"independent"}}},
 {"title":{"text":"C","anchor":"start","frame":"bounds","fontSize":14,"offset":-12},"spacing":17,"resolve":{"scale":{"xOffset":"independent","color":"independent"},"legend":{"color":"independent"}},
  "vconcat":[
  {"title":{"text":"CD45⁺ cells","offset":-12},"width":97,"height":68,"layer":[
   {"data":{"name":"cser"},"transform":[{"filter":"datum.p=='cd'"}],
    "encoding":{"x":{"field":"w","type":"quantitative","title":"Weeks","scale":{"domain":[-0.8,18.2],"nice":false,"zero":false},"axis":{"values":[0,2,4,18],"labelAngle":0,"labelAlign":"center","labelBaseline":"top","titleFontWeight":"normal","titleFontSize":11,"titlePadding":0}},
     "color":{"field":"g","type":"nominal","scale":{"domain":["NaCl","GCSF","CoPP"],"range":["#111111","#1b6191","#9e1b20"]},"legend":{"orient":"none","legendX":80,"legendY":-24,"title":null,"labelFontSize":8,"labelFontWeight":"normal","labelColor":"#222","symbolSize":22,"rowPadding":0,"symbolStrokeWidth":1.2}}},
    "layer":[
     {"mark":{"type":"rule","strokeWidth":1.2},"encoding":{"y":{"field":"lo","type":"quantitative","title":"% of GFP⁺ cells","scale":{"domain":[0,60],"nice":false},"axis":{"values":[0,20,40,60]}},"y2":{"field":"hi"}}},
     {"mark":{"type":"tick","orient":"horizontal","size":6,"thickness":1.2,"opacity":1},"encoding":{"y":{"field":"lo","type":"quantitative"}}},
     {"mark":{"type":"tick","orient":"horizontal","size":6,"thickness":1.2,"opacity":1},"encoding":{"y":{"field":"hi","type":"quantitative"}}},
     {"mark":{"type":"line","strokeWidth":1.2,"point":{"filled":true,"size":22,"opacity":1}},"encoding":{"y":{"field":"m","type":"quantitative"}}}
    ]},
   {"data":{"name":"cbrk"},"transform":[{"filter":"datum.p=='cd'"}],"layer":[
    {"mark":{"type":"rule","color":"#777","strokeWidth":0.8},"encoding":{"x":{"field":"xa","type":"quantitative"},"x2":{"field":"xb"},"y":{"field":"ya","type":"quantitative"}}},
    {"mark":{"type":"rule","color":"#777","strokeWidth":0.8},"encoding":{"x":{"field":"xb","type":"quantitative"},"y":{"field":"ya","type":"quantitative"},"y2":{"field":"yb"}}},
    {"mark":{"type":"rule","color":"#777","strokeWidth":0.8},"encoding":{"x":{"field":"xa","type":"quantitative"},"x2":{"field":"xb"},"y":{"field":"yb","type":"quantitative"}}},
    {"mark":{"type":"text","fontSize":7,"fontWeight":"bold","color":"#333","align":"left","baseline":"middle"},"encoding":{"x":{"field":"xt","type":"quantitative"},"y":{"field":"yt","type":"quantitative"},"text":{"field":"t"}}}
   ]}
  ]},
  {"title":"Granulocytes","width":97,"height":60,"layer":[
   {"data":{"name":"cser"},"transform":[{"filter":"datum.p=='gr'"}],
    "encoding":{"x":{"field":"w","type":"quantitative","title":"Weeks","scale":{"domain":[-0.8,18.2],"nice":false,"zero":false},"axis":{"values":[0,2,4,18],"labelAngle":0,"labelAlign":"center","labelBaseline":"top","titleFontWeight":"normal","titleFontSize":11,"titlePadding":0}},
     "color":{"field":"g","type":"nominal","scale":{"domain":["NaCl","GCSF","CoPP"],"range":["#111111","#1b6191","#9e1b20"]},"legend":null}},
    "layer":[
     {"mark":{"type":"rule","strokeWidth":1.2},"encoding":{"y":{"field":"lo","type":"quantitative","title":"% of GFP⁺ cells","scale":{"domain":[0,80],"nice":false},"axis":{"values":[0,40,80]}},"y2":{"field":"hi"}}},
     {"mark":{"type":"tick","orient":"horizontal","size":6,"thickness":1.2,"opacity":1},"encoding":{"y":{"field":"lo","type":"quantitative"}}},
     {"mark":{"type":"tick","orient":"horizontal","size":6,"thickness":1.2,"opacity":1},"encoding":{"y":{"field":"hi","type":"quantitative"}}},
     {"mark":{"type":"line","strokeWidth":1.2,"point":{"filled":true,"size":22,"opacity":1}},"encoding":{"y":{"field":"m","type":"quantitative"}}}
    ]},
   {"data":{"name":"cbrk"},"transform":[{"filter":"datum.p=='gr'"}],"layer":[
    {"mark":{"type":"rule","color":"#777","strokeWidth":0.8},"encoding":{"x":{"field":"xa","type":"quantitative"},"x2":{"field":"xb"},"y":{"field":"ya","type":"quantitative"}}},
    {"mark":{"type":"rule","color":"#777","strokeWidth":0.8},"encoding":{"x":{"field":"xb","type":"quantitative"},"y":{"field":"ya","type":"quantitative"},"y2":{"field":"yb"}}},
    {"mark":{"type":"rule","color":"#777","strokeWidth":0.8},"encoding":{"x":{"field":"xa","type":"quantitative"},"x2":{"field":"xb"},"y":{"field":"yb","type":"quantitative"}}},
    {"mark":{"type":"text","fontSize":7,"fontWeight":"bold","color":"#333","align":"left","baseline":"middle"},"encoding":{"x":{"field":"xt","type":"quantitative"},"y":{"field":"yt","type":"quantitative"},"text":{"field":"t"}}}
   ]}
  ]},
  {"title":"T cells","width":97,"height":60,"layer":[
   {"data":{"name":"cser"},"transform":[{"filter":"datum.p=='t'"}],
    "encoding":{"x":{"field":"w","type":"quantitative","title":"Weeks","scale":{"domain":[-0.8,18.2],"nice":false,"zero":false},"axis":{"values":[0,2,4,18],"labelAngle":0,"labelAlign":"center","labelBaseline":"top","titleFontWeight":"normal","titleFontSize":11,"titlePadding":0}},
     "color":{"field":"g","type":"nominal","scale":{"domain":["NaCl","GCSF","CoPP"],"range":["#111111","#1b6191","#9e1b20"]},"legend":null}},
    "layer":[
     {"mark":{"type":"rule","strokeWidth":1.2},"encoding":{"y":{"field":"lo","type":"quantitative","title":"% of GFP⁺ cells","scale":{"domain":[0,50],"nice":false},"axis":{"values":[0,25,50]}},"y2":{"field":"hi"}}},
     {"mark":{"type":"tick","orient":"horizontal","size":6,"thickness":1.2,"opacity":1},"encoding":{"y":{"field":"lo","type":"quantitative"}}},
     {"mark":{"type":"tick","orient":"horizontal","size":6,"thickness":1.2,"opacity":1},"encoding":{"y":{"field":"hi","type":"quantitative"}}},
     {"mark":{"type":"line","strokeWidth":1.2,"point":{"filled":true,"size":22,"opacity":1}},"encoding":{"y":{"field":"m","type":"quantitative"}}}
    ]},
   {"data":{"name":"cbrk"},"transform":[{"filter":"datum.p=='t'"}],"layer":[
    {"mark":{"type":"rule","color":"#777","strokeWidth":0.8},"encoding":{"x":{"field":"xa","type":"quantitative"},"x2":{"field":"xb"},"y":{"field":"ya","type":"quantitative"}}},
    {"mark":{"type":"rule","color":"#777","strokeWidth":0.8},"encoding":{"x":{"field":"xb","type":"quantitative"},"y":{"field":"ya","type":"quantitative"},"y2":{"field":"yb"}}},
    {"mark":{"type":"rule","color":"#777","strokeWidth":0.8},"encoding":{"x":{"field":"xa","type":"quantitative"},"x2":{"field":"xb"},"y":{"field":"yb","type":"quantitative"}}},
    {"mark":{"type":"text","fontSize":7,"fontWeight":"bold","color":"#333","align":"left","baseline":"middle"},"encoding":{"x":{"field":"xt","type":"quantitative"},"y":{"field":"yt","type":"quantitative"},"text":{"field":"t"}}}
   ]}
  ]},
  {"title":"B cells","width":97,"height":60,"layer":[
   {"data":{"name":"cser"},"transform":[{"filter":"datum.p=='b'"}],
    "encoding":{"x":{"field":"w","type":"quantitative","title":"Weeks","scale":{"domain":[-0.8,18.2],"nice":false,"zero":false},"axis":{"values":[0,2,4,18],"labelAngle":0,"labelAlign":"center","labelBaseline":"top","titleFontWeight":"normal","titleFontSize":11,"titlePadding":0}},
     "color":{"field":"g","type":"nominal","scale":{"domain":["NaCl","GCSF","CoPP"],"range":["#111111","#1b6191","#9e1b20"]},"legend":null}},
    "layer":[
     {"mark":{"type":"rule","strokeWidth":1.2},"encoding":{"y":{"field":"lo","type":"quantitative","title":"% of GFP⁺ cells","scale":{"domain":[0,60],"nice":false},"axis":{"values":[0,20,40,60]}},"y2":{"field":"hi"}}},
     {"mark":{"type":"tick","orient":"horizontal","size":6,"thickness":1.2,"opacity":1},"encoding":{"y":{"field":"lo","type":"quantitative"}}},
     {"mark":{"type":"tick","orient":"horizontal","size":6,"thickness":1.2,"opacity":1},"encoding":{"y":{"field":"hi","type":"quantitative"}}},
     {"mark":{"type":"line","strokeWidth":1.2,"point":{"filled":true,"size":22,"opacity":1}},"encoding":{"y":{"field":"m","type":"quantitative"}}}
    ]},
   {"data":{"name":"cbrk"},"transform":[{"filter":"datum.p=='b'"}],"layer":[
    {"mark":{"type":"rule","color":"#777","strokeWidth":0.8},"encoding":{"x":{"field":"xa","type":"quantitative"},"x2":{"field":"xb"},"y":{"field":"ya","type":"quantitative"}}},
    {"mark":{"type":"rule","color":"#777","strokeWidth":0.8},"encoding":{"x":{"field":"xb","type":"quantitative"},"y":{"field":"ya","type":"quantitative"},"y2":{"field":"yb"}}},
    {"mark":{"type":"rule","color":"#777","strokeWidth":0.8},"encoding":{"x":{"field":"xa","type":"quantitative"},"x2":{"field":"xb"},"y":{"field":"yb","type":"quantitative"}}},
    {"mark":{"type":"text","fontSize":7,"fontWeight":"bold","color":"#333","align":"left","baseline":"middle"},"encoding":{"x":{"field":"xt","type":"quantitative"},"y":{"field":"yt","type":"quantitative"},"text":{"field":"t"}}}
   ]}
  ]}
 ]}
],"spacing":65,"resolve":{"scale":{"xOffset":"independent","color":"independent"}}},
{"hconcat":[
 {"title":{"text":["E\u00a0\u00a0Mice with > 1% GFP\u00a0\u00a0\u00a0\u00a0\u200b","chimerism in PB","CD45⁺ cells"],"anchor":"middle","offset":-11},"width":64,"height":107,
  "data":{"name":"bars"},"transform":[{"filter":"datum.p=='E'"}],
  "mark":{"type":"bar","stroke":"#111","strokeWidth":1.5,"width":{"band":0.7}},
  "encoding":{"x":{"field":"g","type":"nominal","title":null,"scale":{"domain":["NaCl","G-CSF","CoPP"],"paddingInner":0,"paddingOuter":0.03}},"y":{"field":"v","type":"quantitative","title":"% of mice","scale":{"domain":[0,100],"nice":false},"axis":{"values":[0,20,40,60,80,100]}},"fill":{"condition":[{"test":"datum.g=='NaCl'","value":"white"},{"test":"datum.g=='CoPP'","value":"#9b1419"}],"value":"#1b5e8e"}}},
 {"hconcat":[
  {"title":{"text":["F","\u200b\u00a0\u00a0\u00a0\u00a0\u00a0\u00a0\u00a0\u00a0\u00a0\u00a0\u00a0\u00a0CD45⁺ cells"],"anchor":"start","frame":"bounds"},"width":66,"height":107,"layer":[
   {"data":{"name":"F1"},"mark":{"type":"circle","size":28,"stroke":"#111","strokeWidth":0.8,"opacity":1},"encoding":{"x":{"field":"g","type":"nominal","title":null,"scale":{"domain":["NaCl","G-CSF","CoPP"],"paddingInner":0,"paddingOuter":0.06}},"xOffset":{"field":"i","type":"nominal","scale":{"paddingOuter":0.5}},"y":{"field":"v","type":"quantitative","title":"% of GFP⁺ cells","scale":{"domain":[0,80],"nice":false,"zero":false},"axis":{"values":[0,20,40,60,80]}},"fill":{"condition":[{"test":"datum.g=='NaCl'","value":"#111"},{"test":"datum.g=='CoPP'","value":"#9e1b20"}],"value":"#1b6191"}}},
   {"data":{"name":"means"},"transform":[{"filter":"datum.p=='F1'"}],"mark":{"type":"tick","color":"#111","thickness":1.3,"size":15,"opacity":1},"encoding":{"x":{"field":"g","type":"nominal"},"y":{"field":"v","type":"quantitative"}}},
   {"data":{"name":"brk"},"transform":[{"filter":"datum.p=='F1'"}],"layer":[
    {"mark":{"type":"rule","color":"#777","strokeWidth":0.8},"encoding":{"x":{"field":"g1","type":"nominal"},"x2":{"field":"g2"},"y":{"field":"v","type":"quantitative"}}},
    {"mark":{"type":"rule","color":"#777","strokeWidth":0.8},"encoding":{"x":{"field":"g1","type":"nominal"},"y":{"field":"v","type":"quantitative"},"y2":{"field":"v2"}}},
    {"mark":{"type":"rule","color":"#777","strokeWidth":0.8},"encoding":{"x":{"field":"g2","type":"nominal"},"y":{"field":"v","type":"quantitative"},"y2":{"field":"v2"}}},
    {"mark":{"type":"text","fontSize":8,"fontWeight":"bold","color":"#333","baseline":"bottom"},"encoding":{"x":{"datum":"G-CSF","type":"nominal"},"y":{"field":"v","type":"quantitative"},"text":{"field":"t"}}}
   ]}
  ]},
  {"title":"Granulocytes","width":66,"height":107,"layer":[
   {"data":{"name":"F2"},"mark":{"type":"circle","size":28,"stroke":"#111","strokeWidth":0.8,"opacity":1},"encoding":{"x":{"field":"g","type":"nominal","title":null,"scale":{"domain":["NaCl","G-CSF","CoPP"],"paddingInner":0,"paddingOuter":0.06}},"xOffset":{"field":"i","type":"nominal","scale":{"paddingOuter":0.5}},"y":{"field":"v","type":"quantitative","title":"% of GFP⁺ cells","scale":{"domain":[0,100],"nice":false,"zero":false},"axis":{"values":[0,20,40,60,80,100]}},"fill":{"condition":[{"test":"datum.g=='NaCl'","value":"#111"},{"test":"datum.g=='CoPP'","value":"#9e1b20"}],"value":"#1b6191"}}},
   {"data":{"name":"means"},"transform":[{"filter":"datum.p=='F2'"}],"mark":{"type":"tick","color":"#111","thickness":1.3,"size":15,"opacity":1},"encoding":{"x":{"field":"g","type":"nominal"},"y":{"field":"v","type":"quantitative"}}}
  ]},
  {"title":"T cells","width":66,"height":107,"layer":[
   {"data":{"name":"F3"},"mark":{"type":"circle","size":28,"stroke":"#111","strokeWidth":0.8,"opacity":1},"encoding":{"x":{"field":"g","type":"nominal","title":null,"scale":{"domain":["NaCl","G-CSF","CoPP"],"paddingInner":0,"paddingOuter":0.06}},"xOffset":{"field":"i","type":"nominal","scale":{"paddingOuter":0.5}},"y":{"field":"v","type":"quantitative","title":"% of GFP⁺ cells","scale":{"domain":[0,60],"nice":false,"zero":false},"axis":{"values":[0,20,40,60]}},"fill":{"condition":[{"test":"datum.g=='NaCl'","value":"#111"},{"test":"datum.g=='CoPP'","value":"#9e1b20"}],"value":"#1b6191"}}},
   {"data":{"name":"means"},"transform":[{"filter":"datum.p=='F3'"}],"mark":{"type":"tick","color":"#111","thickness":1.3,"size":15,"opacity":1},"encoding":{"x":{"field":"g","type":"nominal"},"y":{"field":"v","type":"quantitative"}}}
  ]},
  {"title":"B cells","width":66,"height":107,"layer":[
   {"data":{"name":"F4"},"mark":{"type":"circle","size":28,"stroke":"#111","strokeWidth":0.8,"opacity":1},"encoding":{"x":{"field":"g","type":"nominal","title":null,"scale":{"domain":["NaCl","G-CSF","CoPP"],"paddingInner":0,"paddingOuter":0.06}},"xOffset":{"field":"i","type":"nominal","scale":{"paddingOuter":0.5}},"y":{"field":"v","type":"quantitative","title":"% of GFP⁺ cells","scale":{"domain":[0,100],"nice":false,"zero":false},"axis":{"values":[0,20,40,60,80,100]}},"fill":{"condition":[{"test":"datum.g=='NaCl'","value":"#111"},{"test":"datum.g=='CoPP'","value":"#9e1b20"}],"value":"#1b6191"}}},
   {"data":{"name":"means"},"transform":[{"filter":"datum.p=='F4'"}],"mark":{"type":"tick","color":"#111","thickness":1.3,"size":15,"opacity":1},"encoding":{"x":{"field":"g","type":"nominal"},"y":{"field":"v","type":"quantitative"}}},
   {"data":{"name":"brk"},"transform":[{"filter":"datum.p=='F4'"}],"layer":[
    {"mark":{"type":"rule","color":"#777","strokeWidth":0.8},"encoding":{"x":{"field":"g1","type":"nominal"},"x2":{"field":"g2"},"y":{"field":"v","type":"quantitative"}}},
    {"mark":{"type":"rule","color":"#777","strokeWidth":0.8},"encoding":{"x":{"field":"g1","type":"nominal"},"y":{"field":"v","type":"quantitative"},"y2":{"field":"v2"}}},
    {"mark":{"type":"rule","color":"#777","strokeWidth":0.8},"encoding":{"x":{"field":"g2","type":"nominal"},"y":{"field":"v","type":"quantitative"},"y2":{"field":"v2"}}},
    {"mark":{"type":"text","fontSize":8,"fontWeight":"bold","color":"#333","baseline":"bottom"},"encoding":{"x":{"datum":"G-CSF","type":"nominal"},"y":{"field":"v","type":"quantitative"},"text":{"field":"t"}}}
   ]}
  ]}
 ],"spacing":11,"resolve":{"scale":{"xOffset":"independent","color":"independent"}}}
],"spacing":43,"resolve":{"scale":{"xOffset":"independent","color":"independent"}}}
]},
{"hconcat":[
 {"hconcat":[
  {"title":{"text":["G\u00a0\u00a0Mice with > 1% GFP\u00a0\u00a0\u00a0\u00a0\u200b","chimerism in BM","KLS"],"anchor":"middle","offset":-11},"width":64,"height":106,
   "data":{"name":"bars"},"transform":[{"filter":"datum.p=='G'"}],
   "mark":{"type":"bar","stroke":"#111","strokeWidth":1.5,"width":{"band":0.7}},
   "encoding":{"x":{"field":"g","type":"nominal","title":null,"scale":{"domain":["NaCl","G-CSF","CoPP"],"paddingInner":0,"paddingOuter":0.03}},"y":{"field":"v","type":"quantitative","title":"% of mice","scale":{"domain":[0,100],"nice":false},"axis":{"values":[0,20,40,60,80,100]}},"fill":{"condition":[{"test":"datum.g=='NaCl'","value":"white"},{"test":"datum.g=='CoPP'","value":"#9b1419"}],"value":"#1b5e8e"}}},
  {"title":{"text":["H\u00a0\u00a0Mice with > 1% GFP\u00a0\u00a0\u00a0\u00a0\u200b","chimerism in BM","KLS⁻"],"anchor":"middle","offset":-11},"width":80,"height":106,
   "data":{"name":"bars"},"transform":[{"filter":"datum.p=='H'"}],
   "mark":{"type":"bar","stroke":"#111","strokeWidth":1.5,"width":{"band":0.6}},
   "encoding":{"x":{"field":"g","type":"nominal","title":null,"scale":{"domain":["NaCl","G-CSF","CoPP"],"paddingInner":0,"paddingOuter":0.03}},"y":{"field":"v","type":"quantitative","title":"% of mice","scale":{"domain":[0,100],"nice":false},"axis":{"values":[0,20,40,60,80,100]}},"fill":{"condition":[{"test":"datum.g=='NaCl'","value":"white"},{"test":"datum.g=='CoPP'","value":"#9b1419"}],"value":"#1b5e8e"}}}
 ],"spacing":19},
 {"hconcat":[
  {"title":{"text":["I","\u200b\u00a0\u00a0\u00a0\u00a0\u00a0\u00a0\u00a0\u00a0\u00a0\u00a0\u00a0\u00a0\u00a0\u00a0\u00a0\u00a0\u00a0\u00a0\u00a0\u00a0KLS"],"anchor":"start","frame":"bounds"},"width":72,"height":106,"layer":[
   {"data":{"name":"I"},"mark":{"type":"circle","size":28,"stroke":"#111","strokeWidth":0.8,"opacity":1},"encoding":{"x":{"field":"g","type":"nominal","title":null,"scale":{"domain":["NaCl","G-CSF","CoPP"],"paddingInner":0,"paddingOuter":0.06}},"xOffset":{"field":"i","type":"nominal","scale":{"paddingOuter":0.5}},"y":{"field":"v","type":"quantitative","title":"% of GFP⁺ cells","scale":{"domain":[0,50],"nice":false,"zero":false},"axis":{"values":[0,10,20,30,40,50]}},"fill":{"condition":[{"test":"datum.g=='NaCl'","value":"#111"},{"test":"datum.g=='CoPP'","value":"#9e1b20"}],"value":"#1b6191"}}},
   {"data":{"name":"means"},"transform":[{"filter":"datum.p=='I'"}],"mark":{"type":"tick","color":"#111","thickness":1.3,"size":15,"opacity":1},"encoding":{"x":{"field":"g","type":"nominal"},"y":{"field":"v","type":"quantitative"}}},
   {"data":{"name":"brk"},"transform":[{"filter":"datum.p=='I'"}],"layer":[
    {"mark":{"type":"rule","color":"#777","strokeWidth":0.8},"encoding":{"x":{"field":"g1","type":"nominal"},"x2":{"field":"g2"},"y":{"field":"v","type":"quantitative"}}},
    {"mark":{"type":"rule","color":"#777","strokeWidth":0.8},"encoding":{"x":{"field":"g1","type":"nominal"},"y":{"field":"v","type":"quantitative"},"y2":{"field":"v2"}}},
    {"mark":{"type":"rule","color":"#777","strokeWidth":0.8},"encoding":{"x":{"field":"g2","type":"nominal"},"y":{"field":"v","type":"quantitative"},"y2":{"field":"v2"}}},
    {"mark":{"type":"text","fontSize":8,"fontWeight":"bold","color":"#333","baseline":"bottom"},"encoding":{"x":{"datum":"G-CSF","type":"nominal"},"y":{"field":"v","type":"quantitative"},"text":{"field":"t"}}}
   ]}
  ]},
  {"title":{"text":["J","\u200b\u00a0\u00a0\u00a0\u00a0\u00a0\u00a0\u00a0\u00a0\u00a0\u00a0\u00a0\u00a0\u00a0\u00a0\u00a0\u00a0\u00a0KLS⁻"],"anchor":"start","frame":"bounds"},"width":65,"height":106,"layer":[
   {"data":{"name":"J"},"mark":{"type":"circle","size":28,"stroke":"#111","strokeWidth":0.8,"opacity":1},"encoding":{"x":{"field":"g","type":"nominal","title":null,"scale":{"domain":["NaCl","G-CSF","CoPP"],"paddingInner":0,"paddingOuter":0.06}},"xOffset":{"field":"i","type":"nominal","scale":{"paddingOuter":0.5}},"y":{"field":"v","type":"quantitative","title":"% of GFP⁺ cells","scale":{"domain":[0,80],"nice":false,"zero":false},"axis":{"values":[0,20,40,60,80]}},"fill":{"condition":[{"test":"datum.g=='NaCl'","value":"#111"},{"test":"datum.g=='CoPP'","value":"#9e1b20"}],"value":"#1b6191"}}},
   {"data":{"name":"means"},"transform":[{"filter":"datum.p=='J'"}],"mark":{"type":"tick","color":"#111","thickness":1.3,"size":15,"opacity":1},"encoding":{"x":{"field":"g","type":"nominal"},"y":{"field":"v","type":"quantitative"}}}
  ]}
 ],"spacing":40,"resolve":{"scale":{"xOffset":"independent","color":"independent"}}}
],"spacing":66,"resolve":{"scale":{"xOffset":"independent","color":"independent"}}}
]
}
